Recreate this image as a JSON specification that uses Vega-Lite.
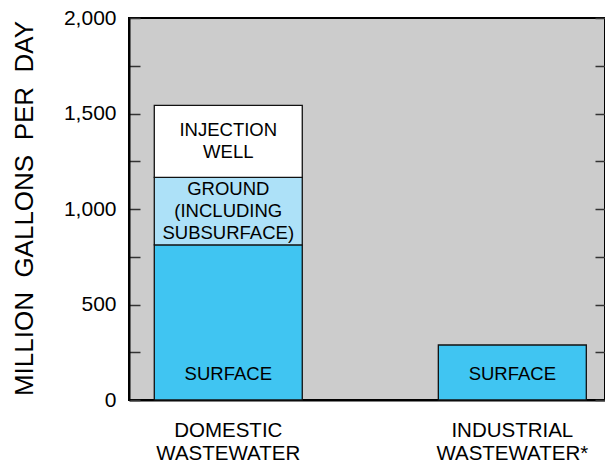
{
  "$schema": "https://vega.github.io/schema/vega-lite/v6.json",
  "width": 476,
  "height": 382,
  "autosize": {"type": "none"},
  "padding": {"left": 129, "top": 18, "right": 0, "bottom": 64},
  "background": "white",
  "config": {
    "view": {"fill": "#cccccc", "stroke": "#000000", "strokeWidth": 2},
    "font": "Liberation Sans"
  },
  "data": {
    "values": [
      {"category": "DOMESTIC WASTEWATER", "segment": "SURFACE", "value": 812},
      {"category": "DOMESTIC WASTEWATER", "segment": "GROUND (INCLUDING SUBSURFACE)", "value": 354},
      {"category": "DOMESTIC WASTEWATER", "segment": "INJECTION WELL", "value": 377},
      {"category": "INDUSTRIAL WASTEWATER*", "segment": "SURFACE", "value": 288}
    ]
  },
  "transform": [
    {"calculate": "indexof(['SURFACE','GROUND (INCLUDING SUBSURFACE)','INJECTION WELL'], datum.segment)", "as": "rank"},
    {"stack": "value", "groupby": ["category"], "sort": [{"field": "rank", "order": "ascending"}], "as": ["v0", "v1"]},
    {"calculate": "datum.segment == 'SURFACE' ? 135 : (datum.v0 + datum.v1) / 2 + (length(split(datum.segment, ' ')) - 1) * 57", "as": "labelAt"}
  ],
  "encoding": {
    "x": {
      "field": "category",
      "type": "nominal",
      "sort": ["DOMESTIC WASTEWATER", "INDUSTRIAL WASTEWATER*"],
      "scale": {"paddingInner": 0.479, "paddingOuter": 0.0774, "align": 0.575},
      "axis": {
        "title": null,
        "orient": "bottom",
        "ticks": false,
        "domainColor": "#000000",
        "domainWidth": 2,
        "labelAngle": 0,
        "labelFontSize": 20.5,
        "labelColor": "#000000",
        "labelExpr": "split(datum.label, ' ')",
        "labelLineHeight": 23,
        "labelBaseline": "top",
        "labelPadding": 20
      }
    }
  },
  "layer": [
    {
      "mark": {"type": "bar", "stroke": "#111111", "strokeWidth": 1.3},
      "encoding": {
        "y": {
          "field": "v1",
          "type": "quantitative",
          "scale": {"domain": [0, 2000], "nice": false},
          "axis": {
            "orient": "left",
            "values": [0, 250, 500, 750, 1000, 1250, 1500, 1750, 2000],
            "labelExpr": "datum.value % 500 == 0 ? datum.label : ''",
            "grid": false,
            "tickSize": -11,
            "tickColor": "#333333",
            "tickWidth": 1.5,
            "domainColor": "#000000",
            "domainWidth": 2,
            "labelFontSize": 21,
            "labelColor": "#000000",
            "labelPadding": 24,
            "title": "MILLION\u00a0 GALLONS\u00a0 PER\u00a0 DAY",
            "titleFontSize": 26,
            "titleFontWeight": "normal",
            "titleColor": "#000000",
            "titleAngle": 270,
            "titleAlign": "center",
            "titleBaseline": "alphabetic",
            "titleX": -97,
            "titleY": 190
          }
        },
        "y2": {"field": "v0"},
        "color": {
          "field": "segment",
          "type": "nominal",
          "scale": {
            "domain": ["SURFACE", "GROUND (INCLUDING SUBSURFACE)", "INJECTION WELL"],
            "range": ["#40c5f2", "#ade1f8", "#ffffff"]
          },
          "legend": null
        }
      }
    },
    {
      "mark": {"type": "text", "lineBreak": " ", "fontSize": 18.5, "lineHeight": 22, "baseline": "middle", "align": "center", "color": "#000000"},
      "encoding": {
        "y": {
          "field": "labelAt",
          "type": "quantitative",
          "scale": {"domain": [0, 2000], "nice": false},
          "axis": {
            "orient": "right",
            "values": [0, 250, 500, 750, 1000, 1250, 1500, 1750, 2000],
            "labels": false,
            "domain": false,
            "grid": false,
            "tickSize": -10,
            "tickColor": "#333333",
            "tickWidth": 1.5,
            "title": null
          }
        },
        "text": {"field": "segment", "type": "nominal"}
      }
    }
  ],
  "resolve": {"axis": {"y": "independent"}}
}
